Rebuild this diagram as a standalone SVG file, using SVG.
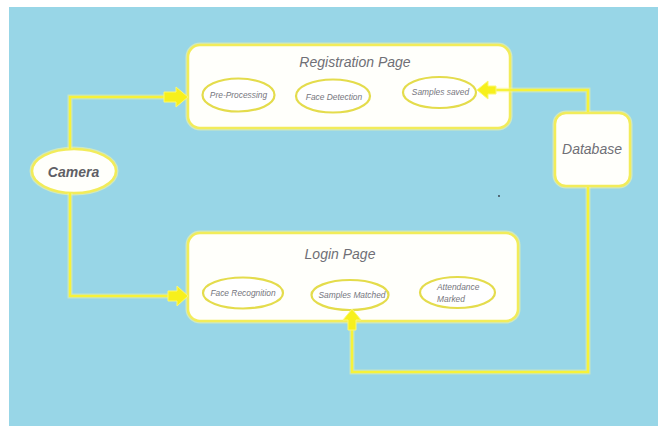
<svg xmlns="http://www.w3.org/2000/svg" width="658" height="426" viewBox="0 0 658 426">
<defs>
<style>
.glow{fill:none;stroke:#fbf7a0;stroke-width:5;opacity:0.55}
.lglow{fill:none;stroke:#fbf7a0;stroke-width:5;opacity:0.45}
.box{fill:#fffffb;stroke:#f2ec5a;stroke-width:2.5}
.ell{fill:#ffffff;stroke:#e4dc4c;stroke-width:2.2}
.line{fill:none;stroke:#f7f23a;stroke-width:2.5;stroke-linejoin:miter}
.arrow{fill:#f7f01c;stroke:#fbf870;stroke-width:1}
.t{font-family:"Liberation Sans",Arial,sans-serif;font-style:italic;fill:#6f6f76}
.title{font-size:14px;text-anchor:middle}
.lab{font-size:8.4px;text-anchor:middle;fill:#76767e}
</style>
</defs>
<rect x="0" y="0" width="658" height="426" fill="#ffffff"/>
<rect x="9" y="7" width="649" height="419" fill="#98d6e7"/>

<g id="registration">
<rect class="glow" x="188" y="45" width="322" height="83" rx="12"/>
<rect class="box" x="188" y="45" width="322" height="83" rx="12"/>
<text class="t title" x="355" y="67">Registration Page</text>
</g>
<g id="pre-processing">
<ellipse class="ell" cx="238.5" cy="95" rx="36" ry="16.5"/>
<text class="t lab" x="238.5" y="98">Pre-Processing</text>
</g>
<g id="face-detection">
<ellipse class="ell" cx="333" cy="96" rx="37" ry="16.5"/>
<text class="t lab" x="334" y="99.5">Face Detection</text>
</g>
<g id="samples-saved">
<ellipse class="ell" cx="439.5" cy="92.5" rx="36.5" ry="15.5"/>
<text class="t lab" x="440.5" y="95">Samples saved</text>
</g>

<g id="login">
<rect class="glow" x="188" y="233" width="330" height="88" rx="12"/>
<rect class="box" x="188" y="233" width="330" height="88" rx="12"/>
<text class="t title" x="340" y="259">Login Page</text>
</g>
<g id="face-recognition">
<ellipse class="ell" cx="243" cy="293" rx="40" ry="15.5"/>
<text class="t lab" x="243" y="295.5">Face Recognition</text>
</g>
<g id="samples-matched">
<ellipse class="ell" cx="350" cy="295" rx="38.5" ry="15"/>
<text class="t lab" x="352" y="297.5">Samples Matched</text>
</g>
<g id="attendance-marked">
<ellipse class="ell" cx="457.5" cy="292.5" rx="37.5" ry="15.5"/>
<text class="t lab" x="437" y="290" style="text-anchor:start">Attendance</text>
<text class="t lab" x="437" y="302" style="text-anchor:start">Marked</text>
</g>

<g id="camera">
<ellipse class="glow" cx="74" cy="171" rx="42" ry="22"/>
<ellipse class="box" cx="74" cy="171" rx="42" ry="22"/>
<text class="t" x="73.5" y="177" style="font-size:14px;font-weight:bold;text-anchor:middle;fill:#5f5f66">Camera</text>
</g>

<g id="database">
<rect class="glow" x="555" y="113" width="75" height="73" rx="11"/>
<rect class="box" x="555" y="113" width="75" height="73" rx="11"/>
<text class="t" x="592" y="154" style="font-size:14px;text-anchor:middle">Database</text>
</g>

<g id="connectors">
<path class="lglow" d="M70,149 V97 H166"/>
<path class="line" d="M70,149 V97 H166"/>
<path class="lglow" d="M70,193 V296 H170"/>
<path class="line" d="M70,193 V296 H170"/>
<path class="lglow" d="M588,112 V90 H493"/>
<path class="line" d="M588,112 V90 H493"/>
<path class="lglow" d="M588,187 V372 H352 V328"/>
<path class="line" d="M588,187 V372 H352 V328"/>
<path class="arrow" d="M164,92 H176 V87 L188,97 L176,107 V102 H164 Z"/>
<path class="arrow" d="M168,291 H177 V286 L188,296 L177,306 V301 H168 Z"/>
<path class="arrow" d="M496,86 H488 V81 L477,90 L488,99 V94 H496 Z"/>
<path class="arrow" d="M348,330 V320 H343 L352,309 L361,320 H356 V330 Z"/>
</g>

<circle cx="499" cy="196" r="0.9" fill="#333844"/>
</svg>
